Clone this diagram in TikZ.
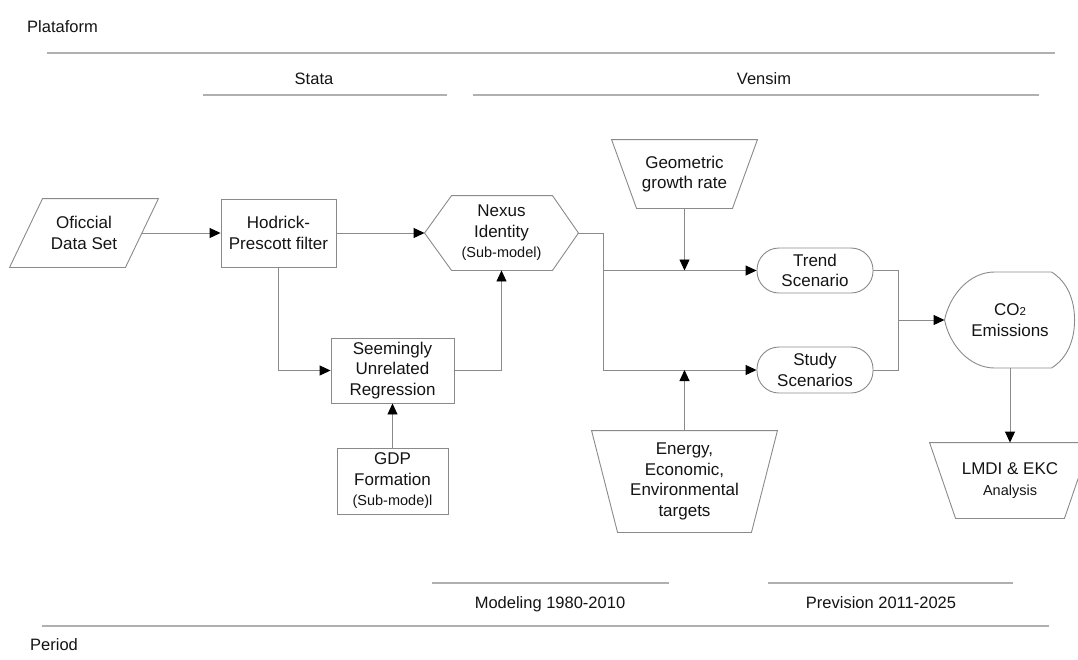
\documentclass[tikz,border=0pt]{standalone}
\usepackage{fontspec}
\setmainfont{Liberation Sans}
\usetikzlibrary{arrows.meta}
\definecolor{linea}{HTML}{8A8A8A}
\definecolor{regla}{HTML}{B0B0B0}
\definecolor{texto}{HTML}{141414}
\newcommand{\chico}{\fontsize{14.5}{17}\selectfont}

\begin{document}
\begin{tikzpicture}[x=1pt,y=-1pt,
    caja/.style={draw=linea, line width=0.9pt, inner sep=0pt, align=center,
      font=\fontsize{17}{20.5}\selectfont, text=texto},
    hueco/.style={caja, draw=none},
    borde/.style={draw=linea, line width=0.9pt},
    flecha/.style={borde, -{Triangle[length=11pt,width=10pt,color=black]}},
    raya/.style={draw=regla, line width=1.4pt},
    etiq/.style={inner sep=0pt, font=\fontsize{16.5}{20}\selectfont, text=texto}]
  \useasboundingbox (0,0) rectangle (1078,659);

  % Plataforma
  \node[etiq, anchor=base west] (plat) at (27,32) {Plataform};
  \draw[raya] (47,53) -- (1055,53);
  \node[etiq, anchor=base] (sta) at (314,84) {Stata};
  \draw[raya] (203,95) -- (447,95);
  \node[etiq, anchor=base] (ven) at (764,84) {Vensim};
  \draw[raya] (473,95) -- (1039,95);

  % Bloques
  \node[hueco, minimum width=148pt, minimum height=68pt] (dat) at (84,233) {Oficcial\\Data Set};
  \draw[borde] (dat.south west) -- ([xshift=33pt]dat.north west) -- (dat.north east)
    -- ([xshift=-33pt]dat.south east) -- cycle;
  \coordinate (datR) at ([xshift=-16.5pt]dat.east);

  \node[caja, minimum width=115pt, minimum height=68pt] (hp) at (278.5,233) {Hodrick-\\Prescott filter};

  \node[hueco, minimum width=153pt, minimum height=74pt] (nex) at (501.5,233)
    {Nexus\\Identity\\{\chico (Sub-model)}};
  \draw[borde] (nex.west) -- ([xshift=27pt]nex.north west) -- ([xshift=-26pt]nex.north east)
    -- (nex.east) -- ([xshift=-26pt]nex.south east) -- ([xshift=27pt]nex.south west) -- cycle;

  \node[caja, minimum width=123pt, minimum height=65pt] (sur) at (392.5,370.5)
    {Seemingly\\Unrelated\\Regression};
  \node[caja, minimum width=111pt, minimum height=66pt] (gdp) at (392.5,481)
    {GDP\\Formation\\{\chico (Sub-mode)l}};

  \node[hueco, minimum width=145pt, minimum height=68pt] (geo) at (684.5,174) {Geometric\\growth rate};
  \draw[borde] (geo.north west) -- (geo.north east) -- ([xshift=-25pt]geo.south east)
    -- ([xshift=25pt]geo.south west) -- cycle;

  \node[hueco, minimum width=185pt, minimum height=101pt] (ene) at (684.5,481.5)
    {Energy,\\Economic,\\Environmental\\targets};
  \draw[borde] (ene.north west) -- (ene.north east) -- ([xshift=-26pt]ene.south east)
    -- ([xshift=26pt]ene.south west) -- cycle;

  \node[caja, rounded corners=22pt, minimum width=116pt, minimum height=45pt] (tre) at (815,270.5)
    {Trend\\Scenario};
  \node[caja, rounded corners=22pt, minimum width=116pt, minimum height=46pt] (stu) at (815,370)
    {Study\\Scenarios};

  \node[hueco, minimum width=130pt, minimum height=96pt] (co2) at (1010,320)
    {CO{\fontsize{11.5}{11}\selectfont 2}\\Emissions};
  \draw[borde, shift={(co2.west)}] (0,0) .. controls (5,-25) and (25,-48) .. (50,-48) -- (107,-48)
    .. controls (123,-38) and (130,-20) .. (130,0) .. controls (130,20) and (123,38) .. (107,48)
    -- (50,48) .. controls (25,48) and (5,25) .. cycle;

  \node[hueco, minimum width=160pt, minimum height=75pt] (lmd) at (1010,480.5)
    {LMDI \& EKC\\{\chico Analysis}};
  \draw[borde] (lmd.north west) -- (lmd.north east) -- ([xshift=-26pt]lmd.south east)
    -- ([xshift=26pt]lmd.south west) -- cycle;

  % Conexiones
  \draw[flecha] (datR) -- (hp.west);
  \draw[flecha] (hp.east) -- (nex.west);
  \draw[flecha] (hp.south) |- (sur.west);
  \draw[flecha] (sur.east) -| (nex.south);
  \draw[flecha] (gdp.north) -- (sur.south);
  \draw[borde] (nex.east) -- ++(25,0) coordinate (spl);
  \draw[flecha] (spl) |- (tre.west);
  \draw[flecha] (spl) |- (stu.west);
  \draw[flecha] (geo.south) -- (geo.south |- tre.west);
  \draw[flecha] (ene.north) -- (ene.north |- stu.west);
  \coordinate (mrg) at (898,320);
  \draw[borde] (tre.east) -| (mrg);
  \draw[borde] (stu.east) -| (mrg);
  \draw[flecha] (mrg) -- (co2.west);
  \draw[flecha] (co2.south) -- (lmd.north);

  % Periodo
  \draw[raya] (432,583) -- (669,583);
  \node[etiq, anchor=base] (mod) at (550,608) {Modeling 1980-2010};
  \draw[raya] (768,583) -- (1013,583);
  \node[etiq, anchor=base] (pre) at (881,608) {Prevision 2011-2025};
  \draw[raya] (42,626) -- (1049,626);
  \node[etiq, anchor=base west] (per) at (30,650) {Period};
\end{tikzpicture}
\end{document}
